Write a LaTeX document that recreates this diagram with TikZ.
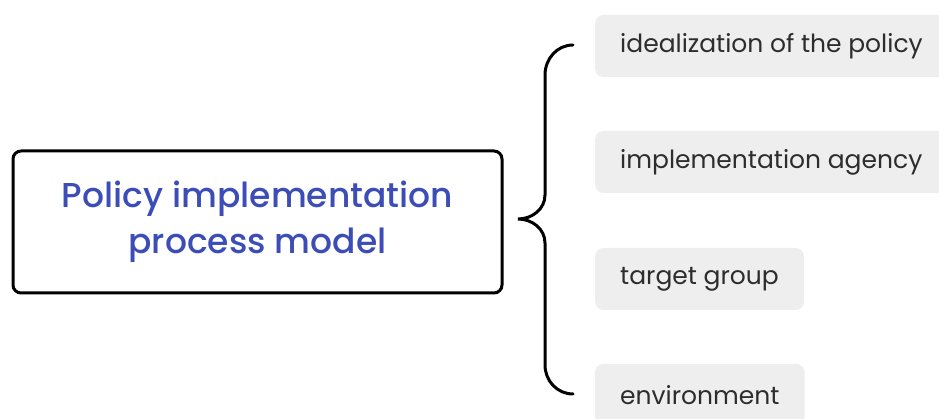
\documentclass[tikz,border=0pt]{standalone}
\usepackage{fontspec}
\setmainfont{Poppins}
\newfontfamily\titlefont{Poppins Medium}
\usetikzlibrary{positioning}
\definecolor{titleblue}{RGB}{61,77,183}
\definecolor{boxgray}{RGB}{238,238,238}
\definecolor{labelgray}{RGB}{45,45,45}

\begin{document}
\begin{tikzpicture}[x=1pt,y=-1pt,%
  % common options for the model box:
  model/.style = {draw=black, line width=3pt, rounded corners=8pt,
              align=center, text=titleblue, minimum width=489pt,
              minimum height=142pt, inner sep=0,
              font=\titlefont\fontsize{34.5}{46}\selectfont},
  % common options for the factor boxes:
  factor/.style = {fill=boxgray, rounded corners=8pt, anchor=west,
              minimum height=62pt, inner xsep=25pt, inner ysep=0,
              text=labelgray, font=\fontsize{25}{30}\selectfont}]

% page frame
\useasboundingbox (0,0) rectangle (939,419);
\clip (0,0) rectangle (939,419);

% the model on the left
\node[model] (model) at (257.5,222) {Policy implementation\\process model};

% the four factors on the right
\node[factor] (ideal) at (595,46) {idealization of the policy};
\node[factor] (agency) at (595,162) {implementation agency};
\node[factor] (target) at (595,279) {target group};
\node[factor] (env) at (595,395) {environment};

% brace joining the model to the factors
\coordinate (tip) at (518,219);
\coordinate (top) at (573,45);
\coordinate (bot) at (573,394);
\draw[line width=3pt,line cap=round]
  (top) to [out=180,in=90] (545,75) -- (545,195)
  to [out=270,in=0] (tip) to [out=0,in=90] (545,243) -- (545,365)
  to [out=270,in=180] (bot);
\end{tikzpicture}
\end{document}
